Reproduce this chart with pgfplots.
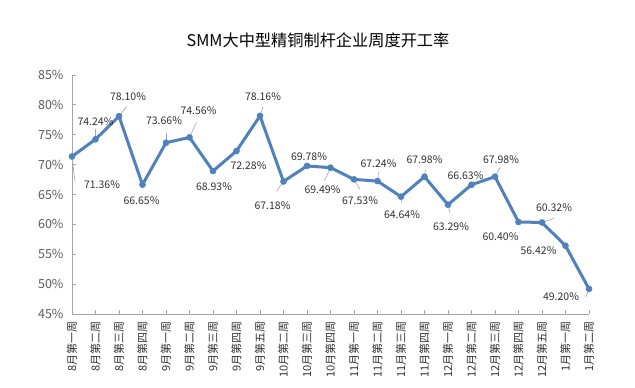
\documentclass[border=0pt]{standalone}
\usepackage{fontspec}
\setmainfont{Noto Sans CJK SC}
\usepackage{pgfplots}
\pgfplotsset{compat=1.18}
\usepackage{pgfplotstable}
\definecolor{lineblue}{HTML}{4F81BD}
\definecolor{axgray}{HTML}{A6A6A6}
\definecolor{txtgray}{HTML}{595959}
\definecolor{lblgray}{HTML}{303030}

\pgfplotstableread{
x y dx dy
0 71.36 30 -28
1 74.24 0 18
2 78.10 9 20
3 66.65 -1 -16
4 73.66 -2 22
5 74.56 9 27
6 68.93 1 -16
7 72.28 12 -15
8 78.16 3 19
9 67.18 -11 -24
10 69.78 2 9
11 69.49 -8 -22
12 67.53 6 -21
13 67.24 1 17
14 64.64 1 -18
15 67.98 0 17
16 63.29 3 -22
17 66.63 -6 9
18 67.98 6 17
19 60.40 -18 -15
20 60.32 12 15
21 56.42 -27 -5
22 49.20 -28 -8
}\data

\pgfplotstableread{
x y lx ly
0 71.36 3 -25
1 74.24 0 10
2 78.10 8 10
4 73.66 0 10
5 74.56 7 15
8 78.16 3 9
9 67.18 -7 -10
11 69.49 -6 -13
12 67.53 6 -10
13 67.24 1 9
14 64.64 1 -7
15 67.98 1 7
16 63.29 2 -8
18 67.98 5 9
20 60.32 12 4
22 49.20 -3 -8
}\leaders

\begin{document}
\begin{tikzpicture}
\useasboundingbox (-72pt,-74pt) rectangle (563pt,314pt);
\begin{axis}[
  scale only axis, width=517pt, height=239pt,
  at={(0,0)}, anchor=south west,
  xmin=0, xmax=22, ymin=45, ymax=85,
  axis lines=left,
  axis line style={axgray, line width=0.8pt, -},
  tick align=inside, major tick length=4pt,
  tick style={axgray, line width=0.8pt},
  xtick={0,...,22},
  xticklabels={8月第一周,8月第二周,8月第三周,8月第四周,9月第一周,9月第二周,9月第三周,9月第四周,9月第五周,10月第二周,10月第三周,10月第四周,11月第一周,11月第二周,11月第三周,11月第四周,12月第一周,12月第二周,12月第三周,12月第四周,12月第五周,1月第一周,1月第二周},
  x tick label style={rotate=90, anchor=east, font=\fontsize{11}{13}\selectfont, text=lblgray, xshift=-4pt},
  ytick={45,50,...,85},
  yticklabel={\pgfmathprintnumber{\tick}\%},
  y tick label style={font=\fontsize{12.5}{15}\selectfont, text=txtgray, xshift=-5pt},
  /pgf/number format/assume math mode=true,
  clip=false,
  title={SMM大中型精铜制杆企业周度开工率},
  title style={font=\fontsize{16.2}{19}\selectfont, text=black, at={(axis description cs:0.5,1)}, anchor=center, yshift=29pt, xshift=-12.5pt},
]
\addplot[gray!70, line width=0.6pt, quiver={u={\thisrow{lx}*22/517}, v={\thisrow{ly}*40/239}}] table[x=x,y=y] {\leaders};
\addplot[lineblue, line width=3pt, mark=*, mark size=3pt,
  mark options={solid, fill=lineblue, draw=lineblue, line width=0.6pt},
  point meta=y,
  visualization depends on={\thisrow{dx} \as \dx},
  visualization depends on={\thisrow{dy} \as \dy},
  nodes near coords={\pgfmathprintnumber[fixed,fixed zerofill,precision=2]{\pgfplotspointmeta}\%},
  every node near coord/.append style={anchor=center, xshift=\dx pt, yshift=\dy pt, font=\fontsize{10.5}{12}\selectfont, text=lblgray, inner sep=0pt},
] table[x=x,y=y] {\data};
\end{axis}
\end{tikzpicture}
\end{document}
